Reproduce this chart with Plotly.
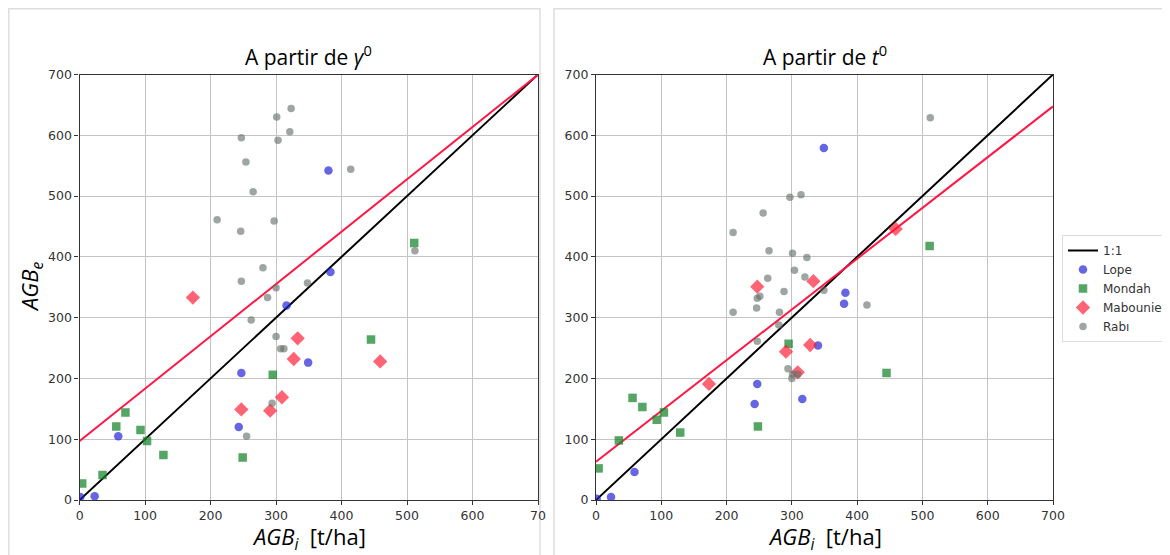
import plotly.graph_objects as go

W, H = 1170, 555
OFF = 8  # page offset of the figure inside the browser window

# ---------------- data ----------------
# Left panel: "A partir de gamma0"
lope_x_g = [1, 23, 59, 243, 247, 316, 349, 380, 383]
lope_y_g = [5, 6, 105, 120, 209, 320, 226, 542, 375]
mondah_x_g = [4, 35, 56, 70, 93, 103, 128, 249, 295, 445, 511]
mondah_y_g = [27, 41, 121, 144, 115, 97, 74, 70, 206, 264, 423]
mabounie_x_g = [173, 247, 291, 309, 327, 333, 459]
mabounie_y_g = [333, 149, 147, 169, 232, 266, 228]
rabi_x_g = [210, 246, 247, 247, 254, 255, 262, 265, 280, 287, 294, 297, 300, 300,
            301, 303, 307, 312, 321, 323, 348, 414, 512]
rabi_y_g = [461, 442, 596, 360, 556, 105, 296, 507, 382, 333, 159, 459, 269, 349,
            630, 592, 249, 249, 606, 644, 357, 544, 410]

# Right panel: "A partir de t0"
lope_x_t = [1, 23, 59, 243, 247, 316, 340, 349, 380, 382]
lope_y_t = [2, 5, 46, 158, 191, 166, 254, 579, 323, 341]
mondah_x_t = [4, 35, 56, 71, 93, 104, 129, 248, 295, 445, 511]
mondah_y_t = [52, 98, 168, 153, 132, 144, 111, 121, 257, 209, 418]
mabounie_x_t = [173, 247, 291, 309, 328, 333, 459]
mabounie_y_t = [191, 351, 244, 210, 255, 360, 446]
rabi_x_t = [210, 210, 246, 247, 247, 251, 256, 263, 265, 280, 281, 288, 294, 297,
            300, 301, 301, 304, 309, 314, 320, 323, 349, 415, 512]
rabi_y_t = [440, 309, 316, 332, 261, 335, 472, 365, 410, 288, 309, 343, 216, 498,
            200, 406, 207, 378, 207, 502, 367, 399, 345, 321, 629]

# regression lines (intercept, slope)
fit_g = (97, 0.861)
fit_t = (63, 0.835)

axis_range = [0, 700]
tick_vals = [0, 100, 200, 300, 400, 500, 600, 700]
tick_text_left_x = ["0", "100", "200", "300", "400", "500", "600", "70"]
tick_text = [str(v) for v in tick_vals]

series_names = ["Lope", "Mondah", "Mabounie", "Rab\u0131"]
series_colors = ["rgba(30,30,215,0.68)", "rgba(20,130,40,0.72)",
                 "rgba(255,25,50,0.68)", "rgba(100,112,105,0.62)"]
series_symbols = ["circle", "square", "diamond", "circle"]
series_sizes = [8.5, 8.5, 11, 7.5]

# ---------------- figure ----------------
fig = go.Figure()

panels = [
    ("x", "y", [(lope_x_g, lope_y_g), (mondah_x_g, mondah_y_g),
                (mabounie_x_g, mabounie_y_g), (rabi_x_g, rabi_y_g)], fit_g, True),
    ("x2", "y2", [(lope_x_t, lope_y_t), (mondah_x_t, mondah_y_t),
                  (mabounie_x_t, mabounie_y_t), (rabi_x_t, rabi_y_t)], fit_t, False),
]

for xa, ya, data, fit, first in panels:
    # 1:1 line
    fig.add_trace(go.Scatter(x=axis_range, y=axis_range, mode="lines",
                             line=dict(color="black", width=2), name="1:1",
                             showlegend=not first, xaxis=xa, yaxis=ya,
                             legendrank=1))
    # regression line
    fig.add_trace(go.Scatter(x=axis_range, y=[fit[0] + fit[1] * v for v in axis_range],
                             mode="lines", line=dict(color="#ff1744", width=2),
                             showlegend=False, xaxis=xa, yaxis=ya))
    for i, (xs, ys) in enumerate(data):
        fig.add_trace(go.Scatter(x=xs, y=ys, mode="markers", name=series_names[i],
                                 marker=dict(color=series_colors[i], symbol=series_symbols[i],
                                             size=series_sizes[i], line=dict(width=0)),
                                 showlegend=not first, xaxis=xa, yaxis=ya,
                                 legendrank=2 + i))


def px(x):
    return (x - OFF) / W


def py(y):
    return 1 - (y - OFF) / H


# plot-area positions in window pixels
L1, R1 = 79.6, 538.0
L2, R2 = 596.0, 1053.0
TOP, BOT = 74.5, 500.0
ydom = [py(BOT), py(TOP)]

axis_common = dict(range=axis_range, tickvals=tick_vals, showgrid=True,
                   gridcolor="#c4c4c4", gridwidth=1, showline=True, linecolor="#333333",
                   linewidth=1.3, mirror=True, ticks="outside", ticklen=4,
                   tickcolor="#333333", zeroline=False, automargin=False,
                   tickfont=dict(family="DejaVu Sans", size=12.5, color="#333333"))

fig.update_layout(
    width=W, height=H,
    margin=dict(l=0, r=0, t=0, b=0, pad=0, autoexpand=False),
    paper_bgcolor="white", plot_bgcolor="white",
    xaxis=dict(domain=[px(L1), px(R1)], anchor="y", ticktext=tick_text_left_x, **axis_common),
    yaxis=dict(domain=ydom, anchor="x", ticktext=tick_text, **axis_common),
    xaxis2=dict(domain=[px(L2), px(R2)], anchor="y2", ticktext=tick_text, **axis_common),
    yaxis2=dict(domain=ydom, anchor="x2", ticktext=tick_text, **axis_common),
    legend=dict(x=px(1062), y=py(235), xanchor="left", yanchor="top",
                bgcolor="white", bordercolor="#dddddd", borderwidth=1,
                font=dict(family="DejaVu Sans", size=12, color="#333333"),
                tracegroupgap=0, itemwidth=30),
    showlegend=True,
)

# panel frames (screenshot borders)
fig.add_shape(type="rect", xref="paper", yref="paper",
              x0=px(8.8), x1=px(540), y0=-0.05, y1=py(8.8),
              line=dict(color="#dedede", width=1.5), layer="below")
fig.add_shape(type="rect", xref="paper", yref="paper",
              x0=px(554), x1=1.05, y0=-0.05, y1=py(8.8),
              line=dict(color="#dedede", width=1.5), layer="below")

title_font = dict(family="Open Sans", size=21, color="black")
fig.add_annotation(text="A partir de <i>\u03b3</i><sup>0</sup>", xref="paper", yref="paper",
                   x=px((L1 + R1) / 2), y=py(55), showarrow=False,
                   xanchor="center", yanchor="middle", font=title_font)
fig.add_annotation(text="A partir de <i>t</i><sup>0</sup>", xref="paper", yref="paper",
                   x=px((L2 + R2) / 2), y=py(55), showarrow=False,
                   xanchor="center", yanchor="middle", font=title_font)

label_font = dict(family="Open Sans", size=22, color="black")
xlabel = "<i>AGB<sub>i</sub></i>\u00a0\u00a0[t/ha]"
fig.add_annotation(text=xlabel, xref="paper", yref="paper",
                   x=px((L1 + R1) / 2), y=py(538), showarrow=False,
                   xanchor="center", yanchor="middle", font=label_font)
fig.add_annotation(text=xlabel, xref="paper", yref="paper",
                   x=px((L2 + R2) / 2), y=py(538), showarrow=False,
                   xanchor="center", yanchor="middle", font=label_font)
fig.add_annotation(text="<i>AGB<sub>e</sub></i>", xref="paper", yref="paper",
                   x=px(31), y=py(287), showarrow=False, textangle=-90,
                   xanchor="center", yanchor="middle", font=label_font)

fig.write_html("out.html")
